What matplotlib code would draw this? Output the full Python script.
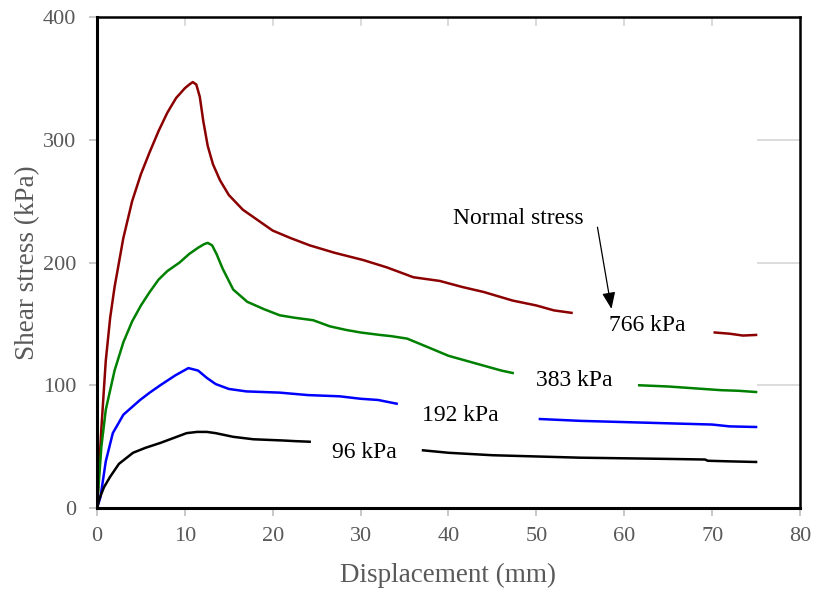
import matplotlib
matplotlib.use('Agg')
import matplotlib.pyplot as plt

plt.rcParams['font.family'] = ['Liberation Serif', 'DejaVu Serif']

# 766 kPa (two visible pieces)
red_x1 = [0, 0.5, 1, 1.5, 2, 3, 4, 5, 6, 7, 8, 9, 10, 10.5, 10.9, 11.3, 11.7, 12.1, 12.6, 13.2, 14, 15,
          16.6, 18, 20, 22, 24.2, 27, 30.3, 33, 36, 39, 41.6, 44, 47.3, 50, 52, 54]
red_y1 = [0, 65, 120, 155, 180, 220, 250, 272, 290, 307, 322, 334, 342, 345, 347, 345, 335, 315, 295, 280, 267, 255,
          243, 236, 226, 220, 214, 208, 202, 196, 188, 185, 180, 176, 169, 165, 161, 159]
red_x2 = [70.3, 72, 73.5, 75]
red_y2 = [143, 142, 140.5, 141]

# 383 kPa
green_x1 = [0, 0.5, 1, 2, 3, 4, 5, 6, 7, 8, 9.4, 10.5, 11.5, 12.2, 12.6, 13.1, 13.6, 14.3, 15.5, 17.1, 19, 20.8,
            22.5, 24.6, 26.5, 28.4, 30, 32.2, 33.5, 35.3, 38, 40, 42, 44, 46, 47.3]
green_y1 = [0, 50, 80, 112, 135, 152, 165, 176, 186, 193, 200, 207, 212, 215, 216, 214, 207, 195, 178, 168, 162, 157,
            155, 153, 148, 145, 143, 141, 140, 138, 130, 124, 120, 116, 112, 110]
green_x2 = [61.7, 65, 68, 71, 73, 75]
green_y2 = [100, 99, 97.5, 96, 95.5, 94.5]

# 192 kPa
blue_x1 = [0, 0.4, 1, 1.8, 3, 4.9, 6, 7.2, 8.9, 10.4, 11.5, 12.5, 13.5, 15, 17, 20.8, 24, 27.6, 30, 32, 34.1]
blue_y1 = [0, 9, 38, 61, 76, 88, 94, 100, 108, 114, 112, 106, 101, 97, 95, 94, 92, 91, 89, 88, 85]
blue_x2 = [50.4, 55, 60, 65, 70, 72, 75]
blue_y2 = [72.5, 71, 70, 69, 68, 66.5, 66]

# 96 kPa
black_x1 = [0, 0.3, 0.8, 1.5, 2.5, 4.1, 5.5, 7.2, 8.7, 10.2, 11.4, 12.5, 13.5, 15.5, 17.8, 19.5, 21.2, 22.5, 24.2]
black_y1 = [0, 8, 17, 25.5, 36, 45, 49, 53, 57, 61, 62, 62, 61, 58, 56, 55.5, 55, 54.5, 54]
black_x2 = [37.1, 40, 45, 50, 55, 60, 65, 69.2, 69.5, 72, 75]
black_y2 = [47, 45, 43, 42, 41, 40.5, 40, 39.5, 38.5, 38, 37.5]

labels = ['766 kPa', '383 kPa', '192 kPa', '96 kPa']
label_x = [62.6, 54.3, 41.3, 30.4]
label_y = [149, 104, 75, 45]

xticks = [0, 10, 20, 30, 40, 50, 60, 70, 80]
yticks = [0, 100, 200, 300, 400]

fig = plt.figure(figsize=(8.15, 5.89), dpi=100)
ax = fig.add_axes([0.119, 0.1375, 0.8626, 0.8336])

grid_c = '#d9d9d9'
# leftover gridline stubs
for xv in xticks[1:-1]:
    ax.plot([xv, xv], [400, 393.5], color=grid_c, lw=1.3, zorder=1)
for yv in yticks[1:-1]:
    ax.plot([75.2, 80], [yv, yv], color=grid_c, lw=1.3, zorder=1)

lw = 1.8
ax.plot(red_x1, red_y1, color='#8b0000', lw=lw)
ax.plot(red_x2, red_y2, color='#8b0000', lw=lw)
ax.plot(green_x1, green_y1, color='#008000', lw=lw)
ax.plot(green_x2, green_y2, color='#008000', lw=lw)
ax.plot(blue_x1, blue_y1, color='#0000ff', lw=lw)
ax.plot(blue_x2, blue_y2, color='#0000ff', lw=lw)
ax.plot(black_x1, black_y1, color='black', lw=lw)
ax.plot(black_x2, black_y2, color='black', lw=lw)

for t, xv, yv in zip(labels, label_x, label_y):
    ax.text(xv, yv, t, fontsize=17, ha='center', va='center', color='black')

ax.text(48, 236, 'Normal stress', fontsize=17, ha='center', va='center', color='black')
ax.annotate('', xy=(58.6, 160), xytext=(56.9, 231),
            arrowprops=dict(arrowstyle='-|>,head_width=0.4,head_length=1.0', color='black', lw=0.9))

ax.set_xlim(0, 80)
ax.set_ylim(0, 400)
ax.set_xticks(xticks)
ax.set_yticks(yticks)
ax.tick_params(axis='both', colors='#bfbfbf', labelcolor='#595959', labelsize=16, length=6, width=1.2, direction='out')
ax.tick_params(axis='x', pad=8)
ax.tick_params(axis='y', pad=9)

for s in ['left', 'bottom']:
    ax.spines[s].set_linewidth(2.2)
for s in ['top', 'right']:
    ax.spines[s].set_linewidth(1.8)
for s in ax.spines.values():
    s.set_color('black')

ax.set_xlabel('Displacement (mm)', fontsize=19.5, color='#595959', labelpad=12)
ax.set_ylabel('Shear stress (kPa)', fontsize=19.5, color='#595959', labelpad=2)

fig.savefig('out.png', dpi=100)
